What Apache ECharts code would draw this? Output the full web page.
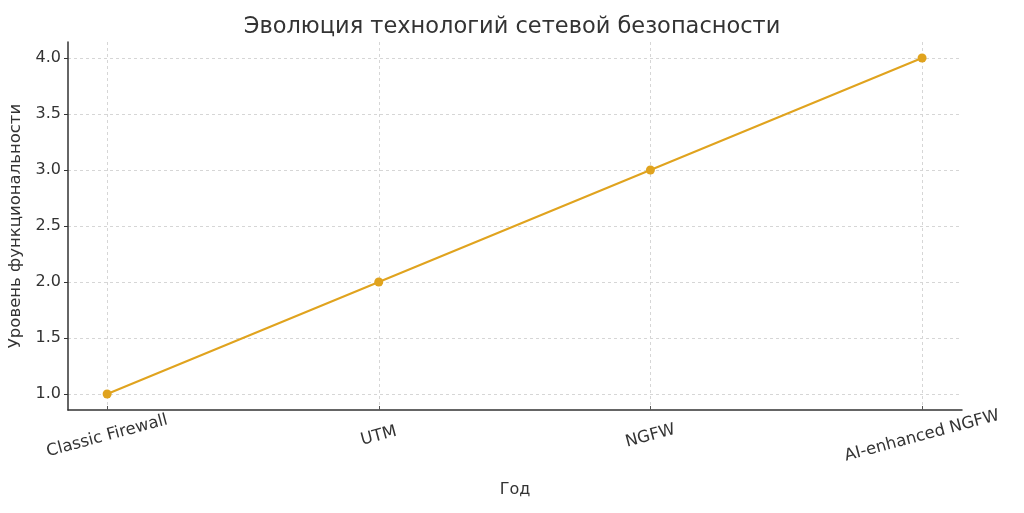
<!DOCTYPE html>
<html><head><meta charset="utf-8">
<script src="https://cdn.jsdelivr.net/npm/echarts@6/dist/echarts.min.js"></script>
<style>html,body{margin:0;padding:0;background:#fff}#c{width:1024px;height:513px}</style>
</head><body><div id="c"></div>
<script>
const categories = ['Classic Firewall', 'UTM', 'NGFW', 'AI-enhanced NGFW'];
const values = [1, 2, 3, 4];
const yTicks = [1.0, 1.5, 2.0, 2.5, 3.0, 3.5, 4.0];
const titleText = 'Эволюция технологий сетевой безопасности';
const xName = 'Год';
const yName = 'Уровень функциональности';

const font = 'DejaVu Sans';
const chart = echarts.init(document.getElementById('c'));
chart.setOption({
  animation: false,
  backgroundColor: '#fff',
  title: { text: titleText, left: 'center', top: 11, textStyle: { fontFamily: font, fontSize: 22.5, fontWeight: 'normal', color: '#333' } },
  grid: { left: 68, right: 62, top: 42, bottom: 103, containLabel: false, outerBoundsMode: 'none' },
  xAxis: {
    type: 'value', min: -0.144, max: 3.147,
    name: xName, nameLocation: 'middle', nameGap: 72,
    nameTextStyle: { fontFamily: font, fontSize: 16, color: '#333' },
    axisLine: { show: true, onZero: false, lineStyle: { color: '#333', width: 1.5 } },
    axisTick: { show: true, inside: true, length: 4, lineStyle: { color: '#555' }, customValues: categories.map((_, i) => i) },
    axisLabel: { customValues: categories.map((_, i) => i), formatter: v => categories[Math.round(v)] || '',
      rotate: 15, align: 'center', verticalAlign: 'middle', margin: 26,
      fontFamily: font, fontSize: 16.5, color: '#333' },
    splitLine: { show: true, lineStyle: { color: '#d6d6d6', type: [3, 3], width: 1 } }
  },
  yAxis: {
    type: 'value', min: 0.857, max: 4.143,
    name: yName, nameLocation: 'middle', nameGap: 41,
    nameTextStyle: { fontFamily: font, fontSize: 16.5, color: '#333' },
    axisLine: { show: true, onZero: false, lineStyle: { color: '#333', width: 1.5 } },
    axisTick: { show: true, length: 4, lineStyle: { color: '#333' }, customValues: yTicks },
    axisLabel: { customValues: yTicks, formatter: v => v.toFixed(1), margin: 7, fontFamily: font, fontSize: 16, color: '#333' },
    splitLine: { show: true, lineStyle: { color: '#d6d6d6', type: [3, 3], width: 1 } }
  },
  series: [{
    type: 'line',
    data: values.map((v, i) => [i, v]),
    symbol: 'circle', symbolSize: 9,
    itemStyle: { color: '#e0a31e' },
    lineStyle: { color: '#e0a31e', width: 2 }
  }]
});
</script></body></html>
